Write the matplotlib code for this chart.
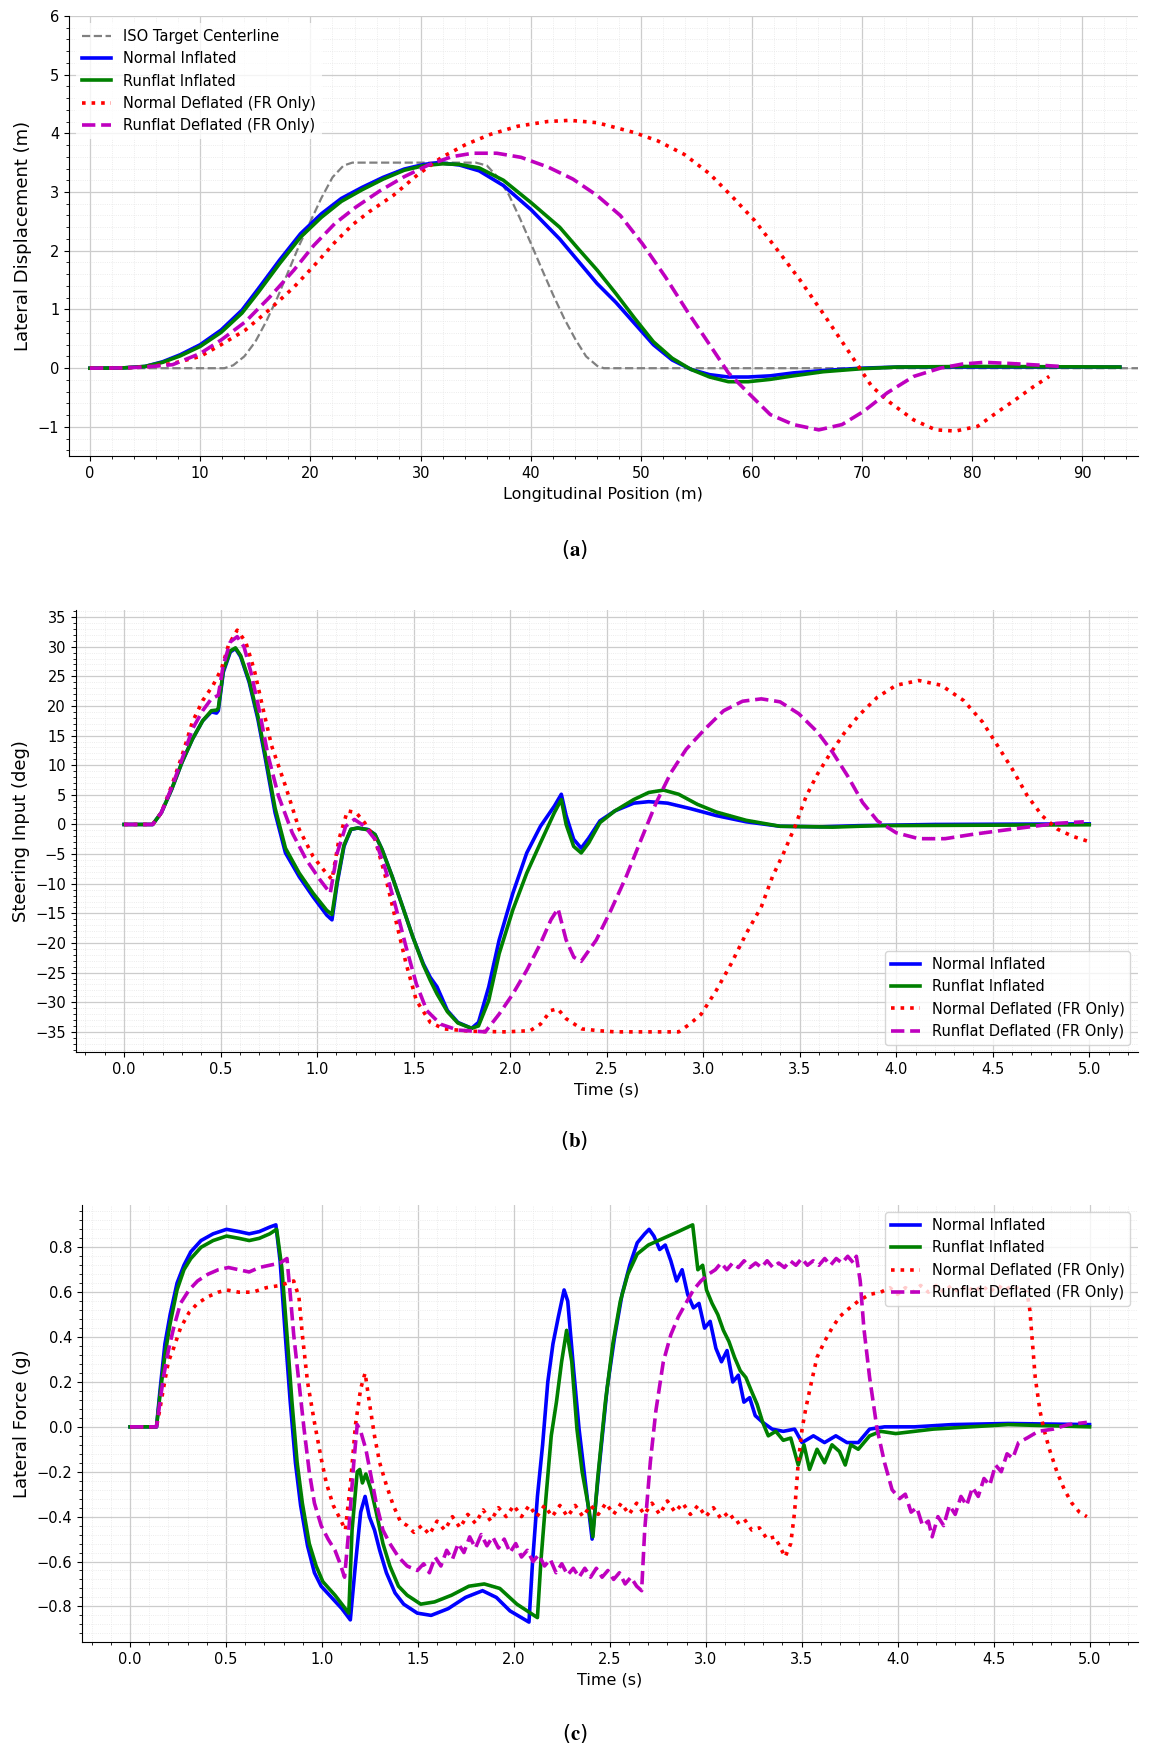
import numpy as np
import matplotlib
matplotlib.use('Agg')
import matplotlib.pyplot as plt
from matplotlib.ticker import AutoMinorLocator, MultipleLocator

plt.rcParams['font.family'] = ['DejaVu Sans']
plt.rcParams['mathtext.fontset'] = 'stix'

# ---------------- (a) lateral displacement vs longitudinal position ----------------
iso_x = [0, 12.2, 13, 14, 15, 16, 17, 18, 19, 20, 21, 22, 23, 23.8, 35, 36, 37, 38, 39, 40, 41, 42, 43, 44, 45, 46, 46.6, 100]
iso_y = [0, 0, 0.05, 0.2, 0.45, 0.8, 1.2, 1.65, 2.1, 2.5, 2.9, 3.25, 3.45, 3.5, 3.5, 3.45, 3.25, 2.95, 2.55, 2.12, 1.68,
         1.25, 0.85, 0.5, 0.2, 0.04, 0, 0]

a_normal_x = [0, 3, 5, 6.6, 8.2, 10, 11.9, 13.8, 15.3, 17.2, 19.1, 21, 22.8, 24.7, 26.6, 28.5, 30.3, 31.6, 33.5, 35.3,
              37.5, 40, 42.6, 44.3, 46, 47.7, 49.4, 51.1, 52.8, 54.5, 56.2, 57.9, 59.7, 61.7, 63.8, 66.5, 69.9, 73.3, 80, 93.4]
a_normal_y = [0, 0.005, 0.03, 0.11, 0.23, 0.4, 0.65, 0.99, 1.36, 1.84, 2.29, 2.63, 2.89, 3.08, 3.25, 3.39, 3.47, 3.5, 3.46, 3.36,
              3.11, 2.7, 2.2, 1.82, 1.44, 1.12, 0.76, 0.4, 0.14, -0.02, -0.11, -0.15, -0.15, -0.13, -0.08, -0.04, 0, 0.02, 0.02, 0.02]

a_runflat_x = [0, 3, 5, 6.6, 8.2, 10, 11.9, 13.8, 15.3, 17.2, 19.1, 21, 22.8, 24.7, 26.6, 28.5, 30.3, 32, 33.5, 35.3,
               37.5, 40, 42.6, 44.3, 46, 47.7, 49.4, 51.1, 52.8, 54.5, 56.2, 57.9, 59.7, 61.7, 63.8, 66.5, 69.9, 73.3, 80, 93.4]
a_runflat_y = [0, 0.005, 0.03, 0.1, 0.21, 0.37, 0.61, 0.94, 1.3, 1.78, 2.23, 2.57, 2.84, 3.04, 3.22, 3.37, 3.45, 3.48, 3.47, 3.41,
               3.2, 2.82, 2.4, 2.03, 1.67, 1.27, 0.85, 0.45, 0.17, -0.02, -0.15, -0.23, -0.23, -0.19, -0.13, -0.06, -0.01, 0.02, 0.03, 0.02]

a_normdef_x = [0, 3, 5, 7.5, 10, 11.9, 14.1, 16.3, 18.5, 20.3, 22.2, 23.8, 25.3, 27.5, 29.7, 31.9, 34.1, 36.3, 38.8, 41.5,
               43.5, 46, 49.4, 51.5, 53.9, 56.2, 58.3, 60.3, 62.4, 64.4, 66.5, 68.5, 69.6, 70.9, 72.6, 74.7, 76.7, 78.5,
               80.5, 82.2, 83.9, 85.6, 87]
a_normdef_y = [0, 0.005, 0.02, 0.08, 0.2, 0.4, 0.65, 1.0, 1.38, 1.74, 2.14, 2.44, 2.66, 2.94, 3.29, 3.59, 3.81, 3.98, 4.12, 4.2,
               4.22, 4.18, 4.01, 3.87, 3.64, 3.31, 2.91, 2.51, 2.0, 1.5, 0.93, 0.37, 0.06, -0.31, -0.59, -0.88, -1.05, -1.07,
               -0.99, -0.76, -0.54, -0.31, -0.14]

a_rundef_x = [0, 3, 5, 7.5, 10, 11.9, 14.1, 16.3, 18.5, 20.3, 22.2, 24.1, 26.3, 28.5, 30.7, 32.8, 34.7, 36.9, 39.1, 41.6,
              43.8, 46, 48.1, 50.1, 52.2, 54.2, 56.2, 57.9, 59.7, 61.7, 63.8, 66.1, 68.2, 70.2, 72.3, 74.7, 77.1, 79.1,
              81.1, 83.5, 86.3, 88]
a_rundef_y = [0, 0.005, 0.02, 0.06, 0.25, 0.48, 0.79, 1.21, 1.67, 2.09, 2.46, 2.74, 3.02, 3.26, 3.46, 3.6, 3.66, 3.66, 3.59, 3.42,
              3.22, 2.94, 2.6, 2.12, 1.55, 0.96, 0.4, -0.08, -0.42, -0.79, -0.96, -1.05, -0.96, -0.73, -0.42, -0.14, 0.0, 0.07,
              0.1, 0.08, 0.05, 0.03]

# ---------------- (b) steering input vs time ----------------
b_normal = [(0, 0), (0.148, 0), (0.193, 2), (0.246, 5.9), (0.3, 10.5), (0.354, 14.4), (0.407, 17.5), (0.452, 19),
            (0.479, 18.8), (0.488, 19.2), (0.514, 25.7), (0.55, 29.1), (0.577, 29.7), (0.604, 28.3), (0.648, 24),
            (0.693, 17.8), (0.729, 11.6), (0.782, 2), (0.836, -4.8), (0.907, -8.8), (0.979, -12.2), (1.05, -15.3),
            (1.077, -16.1), (1.104, -9.9), (1.139, -3.7), (1.175, -0.85), (1.21, -0.6), (1.264, -0.85), (1.3, -1.7),
            (1.336, -4.2), (1.389, -8.8), (1.443, -13.9), (1.496, -19), (1.55, -23.5), (1.586, -25.8), (1.621, -27.4),
            (1.675, -31.4), (1.729, -33.4), (1.8, -34.4), (1.836, -33.4), (1.889, -27.4), (1.943, -19.5), (2.014, -11.6),
            (2.086, -4.8), (2.157, -0.3), (2.229, 3.1), (2.265, 5.1), (2.29, 1.5), (2.329, -2.5), (2.368, -4.0),
            (2.407, -2.3), (2.465, 0.6), (2.543, 2.3), (2.64, 3.6), (2.718, 3.85), (2.815, 3.6), (2.931, 2.7),
            (3.068, 1.5), (3.223, 0.45), (3.398, -0.3), (3.612, -0.4), (3.806, -0.2), (4.195, 0), (5.0, 0.1)]

b_runflat = [(0, 0), (0.148, 0), (0.193, 2), (0.246, 5.9), (0.3, 10.5), (0.354, 14.4), (0.407, 17.5), (0.452, 19.2),
             (0.479, 19.3), (0.488, 19.6), (0.514, 26), (0.55, 29.3), (0.577, 29.8), (0.604, 28.5), (0.648, 24.3),
             (0.693, 18.3), (0.729, 12.2), (0.782, 2.8), (0.836, -4.0), (0.907, -8.2), (0.979, -11.6), (1.05, -14.5),
             (1.077, -15.2), (1.104, -9.5), (1.139, -3.5), (1.175, -0.8), (1.21, -0.6), (1.264, -0.9), (1.3, -1.7),
             (1.336, -4.2), (1.389, -8.8), (1.443, -13.9), (1.496, -19), (1.55, -23.7), (1.586, -26.3), (1.621, -28.6),
             (1.675, -31.6), (1.729, -33.5), (1.8, -34.4), (1.836, -34.0), (1.889, -29.7), (1.943, -21.8), (2.014, -14.4),
             (2.086, -8.2), (2.157, -3.1), (2.229, 2.0), (2.265, 4.2), (2.29, 0.0), (2.329, -3.7), (2.368, -4.8),
             (2.407, -3.1), (2.465, 0.3), (2.543, 2.3), (2.64, 4.2), (2.718, 5.4), (2.795, 5.8), (2.873, 5.1),
             (2.97, 3.4), (3.068, 2.1), (3.223, 0.7), (3.398, -0.3), (3.67, -0.45), (3.903, -0.2), (5.0, -0.05)]

b_normdef = [(0, 0), (0.148, 0), (0.193, 2), (0.246, 6.5), (0.3, 11.6), (0.354, 17.3), (0.407, 20.9), (0.461, 23.5),
             (0.505, 26.3), (0.541, 30.3), (0.586, 32.8), (0.63, 30.8), (0.675, 26), (0.72, 19.5), (0.764, 13.3),
             (0.836, 6.5), (0.907, -0.8), (0.979, -5.4), (1.032, -7.6), (1.077, -9.3), (1.113, -2.5), (1.157, 2.3),
             (1.202, 2.0), (1.246, 0.3), (1.3, -2.5), (1.354, -8.8), (1.407, -16.1), (1.461, -23.5), (1.514, -29.7),
             (1.586, -33.4), (1.657, -34.5), (1.8, -34.9), (1.979, -35), (2.104, -34.8), (2.157, -33.7), (2.211, -31.4),
             (2.246, -31.1), (2.291, -32.8), (2.371, -34.5), (2.457, -34.8), (2.543, -35), (2.873, -35), (2.93, -33.7),
             (2.99, -32), (3.068, -28), (3.145, -23.5), (3.223, -18.4), (3.301, -13.9), (3.359, -8.8), (3.417, -4.8),
             (3.476, -0.3), (3.534, 4.8), (3.592, 8.5), (3.651, 11.6), (3.728, 15.3), (3.806, 18.4), (3.903, 21.5),
             (4.0, 23.5), (4.117, 24.3), (4.233, 23.5), (4.35, 20.9), (4.447, 17.3), (4.525, 13.3), (4.602, 9.3),
             (4.68, 4.8), (4.758, 1.4), (4.836, -0.8), (4.914, -2.0), (4.99, -2.8)]

b_rundef = [(0, 0), (0.148, 0), (0.193, 2), (0.246, 6.2), (0.3, 11), (0.354, 16.1), (0.407, 19.2), (0.452, 21.2),
            (0.488, 21.8), (0.514, 26.9), (0.55, 30.8), (0.586, 31.7), (0.621, 30), (0.657, 25.7), (0.702, 19),
            (0.746, 11.6), (0.8, 4.8), (0.871, -1.4), (0.943, -5.9), (1.014, -9.3), (1.068, -11.6), (1.104, -4.8),
            (1.148, -0.3), (1.193, 0.85), (1.246, -0.3), (1.3, -2.5), (1.354, -7.6), (1.407, -13.9), (1.461, -20.7),
            (1.514, -26.9), (1.568, -31.4), (1.639, -33.7), (1.729, -34.7), (1.871, -35), (1.943, -32), (2.014, -28.6),
            (2.086, -24.6), (2.157, -20.1), (2.211, -16.1), (2.248, -14.2), (2.29, -19.5), (2.33, -22.4), (2.368, -23.1),
            (2.446, -19.5), (2.523, -14.4), (2.601, -8.8), (2.679, -2.5), (2.757, 3.7), (2.834, 8.8), (2.912, 12.7),
            (3.009, 16.1), (3.106, 19.2), (3.204, 20.8), (3.301, 21.2), (3.398, 20.7), (3.495, 18.7), (3.592, 15.6),
            (3.67, 12.2), (3.748, 8.2), (3.826, 3.7), (3.903, 0.6), (4.0, -1.4), (4.117, -2.4), (4.253, -2.4),
            (4.389, -1.7), (4.525, -1.1), (4.68, -0.45), (4.836, 0.2), (4.972, 0.45)]

# ---------------- (c) lateral force vs time ----------------
c_normal = [(0, 0), (0.138, 0), (0.156, 0.16), (0.182, 0.37), (0.209, 0.5), (0.245, 0.64), (0.281, 0.72), (0.317, 0.78),
            (0.37, 0.83), (0.433, 0.86), (0.503, 0.88), (0.567, 0.87), (0.621, 0.86), (0.674, 0.87), (0.728, 0.89),
            (0.76, 0.9), (0.782, 0.74), (0.809, 0.41), (0.835, 0.11), (0.862, -0.16), (0.889, -0.35), (0.925, -0.53),
            (0.961, -0.65), (0.996, -0.71), (1.05, -0.76), (1.104, -0.81), (1.148, -0.86), (1.175, -0.61), (1.202, -0.38),
            (1.225, -0.31), (1.247, -0.4), (1.274, -0.46), (1.301, -0.55), (1.336, -0.65), (1.381, -0.74), (1.426, -0.79),
            (1.497, -0.83), (1.569, -0.84), (1.658, -0.81), (1.748, -0.76), (1.837, -0.73), (1.909, -0.76), (1.98, -0.82),
            (2.079, -0.87), (2.097, -0.61), (2.123, -0.31), (2.15, -0.08), (2.177, 0.2), (2.204, 0.37), (2.232, 0.49),
            (2.262, 0.61), (2.281, 0.56), (2.311, 0.26), (2.34, -0.01), (2.369, -0.22), (2.408, -0.5), (2.447, -0.16),
            (2.486, 0.17), (2.525, 0.4), (2.564, 0.59), (2.604, 0.72), (2.643, 0.82), (2.682, 0.86), (2.705, 0.88),
            (2.73, 0.85), (2.76, 0.79), (2.789, 0.81), (2.818, 0.74), (2.848, 0.65), (2.877, 0.7), (2.906, 0.59),
            (2.936, 0.53), (2.965, 0.55), (2.994, 0.44), (3.023, 0.47), (3.053, 0.35), (3.082, 0.29), (3.111, 0.34),
            (3.141, 0.2), (3.17, 0.23), (3.199, 0.11), (3.229, 0.13), (3.258, 0.05), (3.297, 0.02), (3.346, -0.01),
            (3.404, -0.02), (3.463, -0.01), (3.502, -0.07), (3.561, -0.04), (3.619, -0.07), (3.678, -0.04),
            (3.736, -0.07), (3.795, -0.07), (3.854, -0.01), (3.932, 0.0), (4.088, 0.0), (4.283, 0.01), (4.576, 0.015),
            (5.0, 0.01)]

c_runflat = [(0, 0), (0.138, 0), (0.156, 0.14), (0.182, 0.32), (0.209, 0.46), (0.245, 0.61), (0.281, 0.7), (0.317, 0.75),
             (0.37, 0.8), (0.433, 0.83), (0.503, 0.85), (0.567, 0.84), (0.621, 0.83), (0.674, 0.84), (0.728, 0.86),
             (0.764, 0.88), (0.791, 0.71), (0.818, 0.41), (0.844, 0.11), (0.871, -0.16), (0.898, -0.34), (0.934, -0.52),
             (0.97, -0.62), (1.005, -0.69), (1.068, -0.75), (1.14, -0.83), (1.157, -0.46), (1.184, -0.2), (1.197, -0.19),
             (1.211, -0.25), (1.229, -0.21), (1.256, -0.28), (1.283, -0.38), (1.318, -0.52), (1.354, -0.62),
             (1.399, -0.71), (1.444, -0.75), (1.515, -0.79), (1.587, -0.78), (1.676, -0.75), (1.766, -0.71),
             (1.846, -0.7), (1.927, -0.72), (2.016, -0.79), (2.123, -0.85), (2.141, -0.6), (2.168, -0.31), (2.195, -0.04),
             (2.222, 0.11), (2.249, 0.29), (2.275, 0.43), (2.302, 0.29), (2.329, -0.01), (2.356, -0.2), (2.392, -0.37),
             (2.412, -0.49), (2.437, -0.23), (2.477, 0.11), (2.516, 0.37), (2.555, 0.56), (2.594, 0.68), (2.643, 0.77),
             (2.701, 0.81), (2.779, 0.84), (2.857, 0.87), (2.932, 0.9), (2.959, 0.7), (2.984, 0.72), (3.004, 0.61),
             (3.033, 0.55), (3.063, 0.5), (3.092, 0.43), (3.121, 0.38), (3.15, 0.31), (3.18, 0.25), (3.209, 0.22),
             (3.238, 0.16), (3.268, 0.1), (3.297, 0.02), (3.326, -0.04), (3.365, -0.02), (3.404, -0.06), (3.443, -0.05),
             (3.482, -0.17), (3.512, -0.08), (3.541, -0.19), (3.58, -0.1), (3.619, -0.16), (3.658, -0.08),
             (3.697, -0.11), (3.727, -0.17), (3.756, -0.08), (3.795, -0.1), (3.854, -0.04), (3.912, -0.02),
             (3.99, -0.03), (4.186, -0.01), (4.381, 0.0), (4.576, 0.01), (5.0, 0.0)]

c_normdef = [(0, 0), (0.138, 0), (0.156, 0.08), (0.174, 0.17), (0.2, 0.29), (0.227, 0.35), (0.263, 0.44), (0.308, 0.51),
             (0.352, 0.55), (0.406, 0.58), (0.46, 0.6), (0.503, 0.61), (0.567, 0.6), (0.639, 0.6), (0.71, 0.62),
             (0.782, 0.63), (0.853, 0.65), (0.88, 0.58), (0.898, 0.41), (0.925, 0.2), (0.961, 0.02), (0.996, -0.14),
             (1.023, -0.25), (1.059, -0.35), (1.095, -0.41), (1.122, -0.46), (1.148, -0.26), (1.175, 0.01), (1.202, 0.17),
             (1.225, 0.24), (1.247, 0.11), (1.274, -0.04), (1.301, -0.16), (1.336, -0.26), (1.372, -0.35),
             (1.408, -0.42), (1.444, -0.44), (1.479, -0.47),
             (1.52, -0.44), (1.56, -0.48), (1.60, -0.42), (1.64, -0.46), (1.68, -0.40), (1.72, -0.45), (1.76, -0.39),
             (1.80, -0.43), (1.84, -0.37), (1.88, -0.42), (1.92, -0.36), (1.96, -0.40), (2.00, -0.35), (2.04, -0.40),
             (2.08, -0.35), (2.12, -0.40), (2.16, -0.35), (2.20, -0.40), (2.24, -0.35), (2.28, -0.40), (2.32, -0.35),
             (2.36, -0.40), (2.40, -0.35), (2.44, -0.39), (2.48, -0.34), (2.52, -0.39), (2.56, -0.34), (2.60, -0.39),
             (2.64, -0.34), (2.68, -0.39), (2.72, -0.34), (2.76, -0.39), (2.80, -0.33), (2.84, -0.38), (2.88, -0.34),
             (2.92, -0.39), (2.96, -0.35), (3.00, -0.40), (3.04, -0.36), (3.08, -0.41), (3.12, -0.38), (3.16, -0.43),
             (3.20, -0.41), (3.24, -0.46), (3.28, -0.45), (3.32, -0.50), (3.36, -0.49), (3.39, -0.54), (3.414, -0.58),
             (3.443, -0.52), (3.463, -0.38), (3.482, -0.16), (3.502, -0.01), (3.521, 0.08), (3.551, 0.2), (3.58, 0.31),
             (3.619, 0.38), (3.658, 0.44), (3.697, 0.49), (3.736, 0.52), (3.795, 0.56), (3.854, 0.59), (3.912, 0.6),
             (3.96, 0.62), (4.0, 0.59), (4.04, 0.62), (4.08, 0.6), (4.12, 0.63), (4.16, 0.6), (4.2, 0.63), (4.24, 0.6),
             (4.28, 0.63), (4.32, 0.6), (4.36, 0.63), (4.4, 0.6), (4.44, 0.63), (4.48, 0.6), (4.52, 0.63), (4.56, 0.61),
             (4.6, 0.63), (4.64, 0.61), (4.674, 0.6), (4.689, 0.52), (4.703, 0.37), (4.717, 0.22), (4.742, 0.07),
             (4.762, -0.01), (4.791, -0.1), (4.83, -0.2), (4.869, -0.28), (4.908, -0.34), (4.947, -0.38), (4.986, -0.4)]

c_rundef = [(0, 0), (0.138, 0), (0.156, 0.11), (0.174, 0.22), (0.2, 0.34), (0.227, 0.44), (0.263, 0.55), (0.308, 0.61),
            (0.352, 0.65), (0.406, 0.68), (0.46, 0.7), (0.513, 0.71), (0.567, 0.7), (0.621, 0.69), (0.674, 0.71),
            (0.728, 0.72), (0.782, 0.73), (0.818, 0.75), (0.835, 0.59), (0.853, 0.41), (0.88, 0.2), (0.907, -0.01),
            (0.934, -0.2), (0.961, -0.34), (0.996, -0.44), (1.032, -0.5), (1.068, -0.55), (1.095, -0.61), (1.118, -0.67),
            (1.14, -0.46), (1.166, -0.16), (1.184, 0.01), (1.202, -0.02), (1.229, -0.1), (1.256, -0.22), (1.283, -0.34),
            (1.318, -0.46), (1.354, -0.52), (1.399, -0.58), (1.444, -0.62), (1.497, -0.64),
            (1.53, -0.61), (1.56, -0.65), (1.59, -0.58), (1.62, -0.62), (1.65, -0.55), (1.68, -0.59), (1.71, -0.52),
            (1.74, -0.56), (1.77, -0.49), (1.80, -0.54), (1.83, -0.48), (1.86, -0.53), (1.89, -0.49), (1.92, -0.54),
            (1.95, -0.5), (1.98, -0.56), (2.01, -0.52), (2.04, -0.58), (2.07, -0.55), (2.1, -0.6), (2.13, -0.57),
            (2.16, -0.62), (2.19, -0.59), (2.22, -0.65), (2.25, -0.61), (2.28, -0.66), (2.31, -0.63), (2.34, -0.67),
            (2.37, -0.63), (2.4, -0.67), (2.43, -0.63), (2.46, -0.67), (2.49, -0.64), (2.52, -0.68), (2.55, -0.65),
            (2.58, -0.7), (2.61, -0.67), (2.64, -0.71), (2.666, -0.73), (2.682, -0.46), (2.711, -0.16), (2.74, 0.07),
            (2.779, 0.29), (2.818, 0.41), (2.857, 0.49), (2.896, 0.55), (2.936, 0.61), (2.975, 0.65), (3.014, 0.68),
            (3.05, 0.7), (3.08, 0.73), (3.11, 0.7), (3.14, 0.73), (3.17, 0.71), (3.2, 0.74), (3.23, 0.71), (3.26, 0.73),
            (3.29, 0.71), (3.32, 0.74), (3.35, 0.71), (3.38, 0.73), (3.41, 0.71), (3.44, 0.74), (3.47, 0.72),
            (3.5, 0.75), (3.53, 0.72), (3.56, 0.74), (3.59, 0.72), (3.62, 0.75), (3.65, 0.72), (3.68, 0.75),
            (3.71, 0.73), (3.74, 0.76), (3.77, 0.73), (3.785, 0.76), (3.805, 0.65), (3.824, 0.44), (3.854, 0.22),
            (3.893, -0.01), (3.932, -0.16), (3.971, -0.28), (4.01, -0.32), (4.04, -0.3), (4.07, -0.38), (4.1, -0.36),
            (4.13, -0.44), (4.16, -0.42), (4.18, -0.49), (4.21, -0.4), (4.24, -0.44), (4.27, -0.35), (4.3, -0.39),
            (4.33, -0.31), (4.36, -0.35), (4.39, -0.27), (4.42, -0.31), (4.45, -0.23), (4.48, -0.26), (4.51, -0.17),
            (4.54, -0.2), (4.57, -0.12), (4.6, -0.14), (4.63, -0.07), (4.674, -0.05), (4.733, -0.02), (4.811, -0.01),
            (4.889, 0.01), (4.986, 0.02)]

labels = ['Normal Inflated', 'Runflat Inflated', 'Normal Deflated (FR Only)', 'Runflat Deflated (FR Only)']
styles = [dict(color='b', ls='-', lw=2.6), dict(color='g', ls='-', lw=2.6),
          dict(color='r', ls=':', lw=2.6), dict(color='m', ls='--', lw=2.6)]


def style_axes(ax, xstep, ystep):
    ax.spines['top'].set_visible(False)
    ax.spines['right'].set_visible(False)
    ax.xaxis.set_major_locator(MultipleLocator(xstep))
    ax.yaxis.set_major_locator(MultipleLocator(ystep))
    ax.xaxis.set_minor_locator(AutoMinorLocator(5))
    ax.yaxis.set_minor_locator(AutoMinorLocator(5))
    ax.grid(which='major', color='#cccccc', lw=0.9)
    ax.grid(which='minor', color='#e6e6e6', lw=0.6, ls=':')
    ax.set_axisbelow(True)
    ax.tick_params(labelsize=10.5)


fig = plt.figure(figsize=(11.49, 17.55), dpi=100)

# (a)
ax1 = fig.add_axes([0.060, 0.740, 0.930, 0.251])
ax1.plot(iso_x, iso_y, color='gray', ls='--', lw=1.6, label='ISO Target Centerline')
for xs, ys, lab, st in zip([a_normal_x, a_runflat_x, a_normdef_x, a_rundef_x],
                           [a_normal_y, a_runflat_y, a_normdef_y, a_rundef_y], labels, styles):
    ax1.plot(xs, ys, label=lab, **st)
ax1.set_xlim(-1.9, 95)
ax1.set_ylim(-1.5, 6)
ax1.set_xlabel('Longitudinal Position (m)', fontsize=11.5)
ax1.set_ylabel('Lateral Displacement (m)', fontsize=13)
style_axes(ax1, 10, 1)
ax1.legend(loc='upper left', fontsize=10.5, frameon=True, edgecolor='none', framealpha=0.8)

# (b)
ax2 = fig.add_axes([0.066, 0.4006, 0.924, 0.2518])
for data, lab, st in zip([b_normal, b_runflat, b_normdef, b_rundef], labels, styles):
    t, v = np.array(data).T
    ax2.plot(t, v, label=lab, **st)
ax2.set_xlabel('Time (s)', fontsize=11.5)
ax2.set_ylabel('Steering Input (deg)', fontsize=13)
style_axes(ax2, 0.5, 5)
ax2.legend(loc='lower right', fontsize=10.5)

# (c)
ax3 = fig.add_axes([0.0714, 0.0644, 0.9186, 0.249])
for data, lab, st in zip([c_normal, c_runflat, c_normdef, c_rundef], labels, styles):
    t, v = np.array(data).T
    ax3.plot(t, v, label=lab, **st)
ax3.set_xlabel('Time (s)', fontsize=11.5)
ax3.set_ylabel('Lateral Force (g)', fontsize=13)
style_axes(ax3, 0.5, 0.2)
ax3.legend(loc='upper right', fontsize=10.5)

for y, letter in [(0.687, 'a'), (0.350, 'b'), (0.012, 'c')]:
    fig.text(0.5, y, r'($\mathbf{' + letter + r'}$)', ha='center', va='center', fontsize=15)

fig.savefig('out.png', dpi=100)
